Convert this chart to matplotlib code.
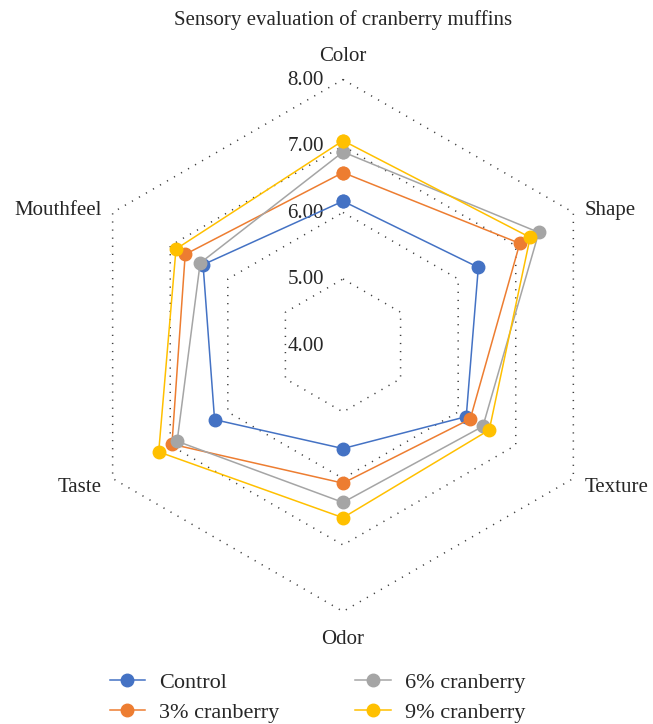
import numpy as np
import matplotlib
matplotlib.use("Agg")
import matplotlib.pyplot as plt
from matplotlib.lines import Line2D

plt.rcParams["font.family"] = ["Liberation Serif", "DejaVu Serif"]

TITLE = "Sensory evaluation of cranberry muffins"
attributes = ["Color", "Shape", "Texture", "Odor", "Taste", "Mouthfeel"]
series_names = ["Control", "3% cranberry", "6% cranberry", "9% cranberry"]
control = [6.17, 6.35, 6.14, 5.55, 6.23, 6.43]
cran3 = [6.60, 7.07, 6.21, 6.07, 6.97, 6.74]
cran6 = [6.91, 7.40, 6.43, 6.36, 6.88, 6.48]
cran9 = [7.08, 7.25, 6.54, 6.59, 7.20, 6.90]
ring_values = [4.0, 5.0, 6.0, 7.0, 8.0]
colors = ["#4472C4", "#ED7D31", "#A5A5A5", "#FFC000"]

RMIN, RMAX = 4.0, 8.0
TXT = "#262626"
# spoke angles, clockwise from the top
ang = np.deg2rad(90 - 60 * np.arange(len(attributes)))


def to_xy(vals):
    r = np.asarray(vals) - RMIN
    x, y = r * np.cos(ang), r * np.sin(ang)
    return np.append(x, x[0]), np.append(y, y[0])


fig = plt.figure(figsize=(6.53, 7.24), dpi=100)
ax = fig.add_axes([0, 0, 1, 1])
ax.set_xlim(-5.158, 4.662)
ax.set_ylim(-5.692, 5.195)
ax.axis("off")

# hexagonal dotted rings
for rv in ring_values[1:]:
    gx, gy = to_xy([rv] * len(attributes))
    ax.plot(gx, gy, color="#404040", lw=1.1, ls=(0, (0.8, 4.5)), zorder=1)
for rv in ring_values:
    ax.text(-0.29, rv - RMIN - 0.01, f"{rv:.2f}", ha="right", va="center",
            fontsize=15, color=TXT)

for name, vals, c in zip(series_names, [control, cran3, cran6, cran9], colors):
    px, py = to_xy(vals)
    ax.plot(px, py, color=c, lw=1.1, marker="o", ms=9, zorder=3, label=name)

# attribute labels just outside the outer ring vertices
R = RMAX - RMIN
for a, t in zip(attributes, ang):
    vx, vy = R * np.cos(t), R * np.sin(t)
    up = np.sin(t) > 0
    if abs(np.cos(t)) < 0.1:
        ax.text(vx, vy + (0.35 if up else -0.425), a, ha="center", va="center",
                fontsize=15, color=TXT)
    else:
        side = np.sign(np.cos(t))
        ax.text(vx + side * 0.17, vy + (0.025 if up else -0.14), a,
                ha="left" if side > 0 else "right", va="center",
                fontsize=15, color=TXT)

ax.text(0, 4.9, TITLE, ha="center", va="center", fontsize=15, color=TXT)

handles = [Line2D([], [], color=c, lw=1.1, marker="o", ms=9) for c in colors]
fig.legend(handles, series_names, ncol=2, loc="upper left",
           bbox_to_anchor=(0.151, 0.087), frameon=False, fontsize=16,
           handlelength=1.6, handletextpad=0.64, columnspacing=3.4,
           labelspacing=0.42, borderpad=0, labelcolor=TXT)

fig.savefig("out.png", dpi=100)
